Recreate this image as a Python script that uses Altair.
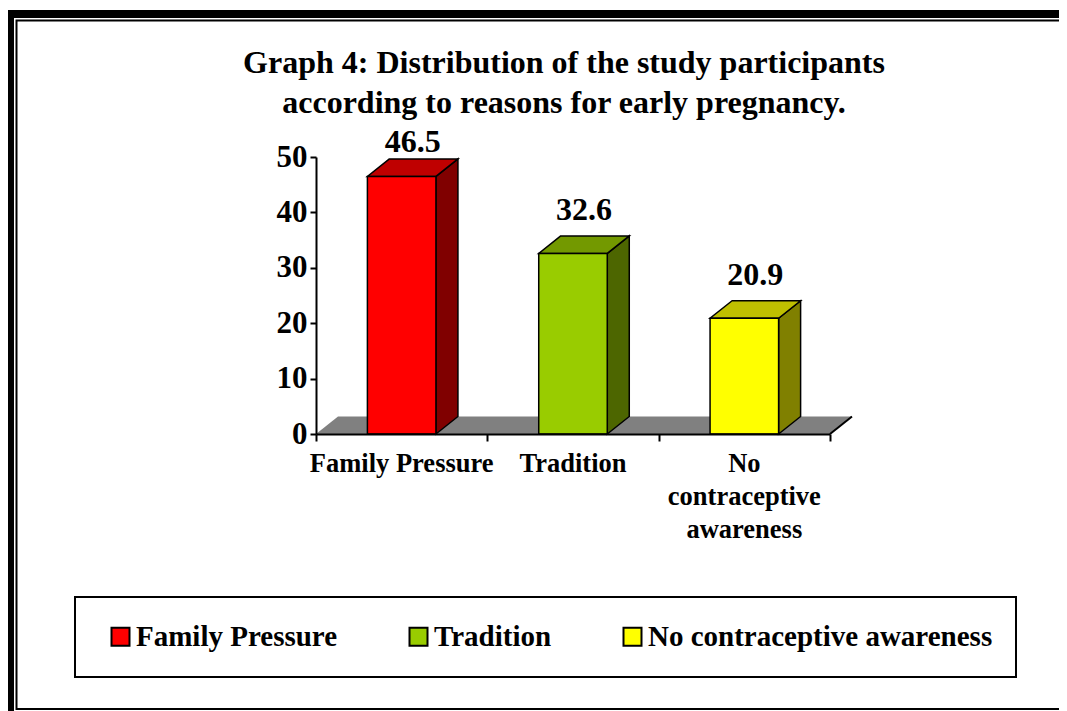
import altair as alt
import pandas as pd

# ---- data ----
categories = ["Family Pressure", "Tradition", "No contraceptive awareness"]
values = [46.5, 32.6, 20.9]
value_labels = ["46.5", "32.6", "20.9"]
axis_labels = ["Family Pressure", "Tradition", "No\ncontraceptive\nawareness"]
front_colors = ["#FF0000", "#99CC00", "#FFFF00"]
top_colors = ["#BF0000", "#739900", "#BFBF00"]
side_colors = ["#800000", "#4D6600", "#808000"]
title_lines = ["Graph 4: Distribution of the study participants",
               "according to reasons for early pregnancy."]
y_ticks = [0, 10, 20, 30, 40, 50]

# ---- layout constants ----
FONT = "Liberation Serif"
PLOT_W, PLOT_H = 514, 277
PAD = {"left": 308, "top": 149, "right": 229, "bottom": 277}
Y_MAX = 50
N = len(categories)
PX_Y = PLOT_H / Y_MAX          # pixels per unit on y
PX_X = PLOT_W / N              # pixels per category
BAR_HALF = 0.2                 # half bar width in category units
DX = 22 / PX_X                 # 3-D depth offset (x units)
DY = 17.5 / PX_Y               # 3-D depth offset (y units)
LABEL_GAP = 33 / PX_Y
LABEL_CAP = 50.9

# ---- derived tables ----
front = pd.DataFrame({
    "cat": categories,
    "l": [i + 0.5 - BAR_HALF for i in range(N)],
    "r": [i + 0.5 + BAR_HALF for i in range(N)],
    "zero": [0] * N,
    "v": values,
})

side_rows, top_rows = [], []
for i, (c, v) in enumerate(zip(categories, values)):
    l, r = i + 0.5 - BAR_HALF, i + 0.5 + BAR_HALF
    side_rows += [dict(cat=c, x=r, y=0, y2=v, col=side_colors[i]),
                  dict(cat=c, x=r + DX, y=DY, y2=v + DY, col=side_colors[i])]
    top_rows += [dict(cat=c, y=v, x=l, x2=r, col=top_colors[i]),
                 dict(cat=c, y=v + DY, x=l + DX, x2=r + DX, col=top_colors[i])]
side = pd.DataFrame(side_rows)
top = pd.DataFrame(top_rows)

floor = pd.DataFrame({"y": [0, DY], "x": [0, DX], "x2": [N, N + DX]})
edge = pd.DataFrame({"x": [N], "y": [0], "x2": [N + DX], "y2": [DY]})

vlab = pd.DataFrame({
    "x": [i + 0.5 + DX / 2 for i in range(N)],
    "y": [min(v + LABEL_GAP, LABEL_CAP) for v in values],
    "t": value_labels,
})
clab = pd.DataFrame({"x": [i + 0.5 for i in range(N)], "t": axis_labels})
one = pd.DataFrame({"a": [0]})

xscale = alt.Scale(domain=[0, N], nice=False, zero=False)
yscale = alt.Scale(domain=[0, Y_MAX], nice=False)

# ---- layers ----
floor_layer = alt.Chart(floor).mark_area(orient="horizontal", color="#808080").encode(
    y=alt.Y("y:Q", scale=yscale, title=None,
            axis=alt.Axis(values=y_ticks, grid=False, domainColor="black", domainWidth=2,
                          tickColor="black", tickWidth=2, tickSize=6, labelPadding=3,
                          labelFont=FONT, labelFontSize=31, labelFontWeight="bold",
                          labelColor="black", zindex=1, title=None)),
    x=alt.X("x:Q", scale=xscale, stack=None, title=None,
            axis=alt.Axis(values=list(range(N + 1)), labels=False, grid=False,
                          domainColor="black", domainWidth=2, tickColor="black",
                          tickWidth=2, tickSize=7, zindex=1, title=None)),
    x2="x2",
)

edge_layer = alt.Chart(edge).mark_rule(color="black", strokeWidth=2).encode(
    x=alt.X("x:Q", title=None), y=alt.Y("y:Q", title=None), x2="x2", y2="y2")

side_layer = alt.Chart(side).mark_area(orient="vertical", stroke="black", strokeWidth=1.5).encode(
    x=alt.X("x:Q", title=None),
    y=alt.Y("y:Q", stack=None, title=None),
    y2="y2",
    fill=alt.Fill("col:N", scale=None),
    detail="cat:N",
)

top_layer = alt.Chart(top).mark_area(orient="horizontal", stroke="black", strokeWidth=1.5).encode(
    y=alt.Y("y:Q", title=None),
    x=alt.X("x:Q", stack=None, title=None),
    x2="x2",
    fill=alt.Fill("col:N", scale=None),
    detail="cat:N",
)

front_layer = alt.Chart(front).mark_rect(stroke="black", strokeWidth=1.5, opacity=1).encode(
    x=alt.X("l:Q", title=None),
    x2="r",
    y=alt.Y("zero:Q", title=None),
    y2="v",
    color=alt.Color("cat:N", sort=categories,
                    scale=alt.Scale(domain=categories, range=front_colors),
                    legend=alt.Legend(title=None, orient="none", legendX=-210, legendY=465,
                                      direction="horizontal", columns=3, columnPadding=66,
                                      symbolType="square", symbolSize=324,
                                      symbolStrokeColor="black", symbolStrokeWidth=2,
                                      symbolOpacity=1, labelOffset=1, labelLimit=0,
                                      labelFont=FONT, labelFontSize=29,
                                      labelFontWeight="bold", labelColor="black")),
)

vlab_layer = alt.Chart(vlab).mark_text(font=FONT, fontSize=32, fontWeight="bold",
                                       color="black", align="center",
                                       baseline="alphabetic").encode(
    x=alt.X("x:Q", title=None), y=alt.Y("y:Q", title=None), text="t:N")

clab_layer = alt.Chart(clab).mark_text(font=FONT, fontSize=26.5, fontWeight="bold",
                                       color="black", align="center", baseline="alphabetic",
                                       lineBreak="\n", lineHeight=33).encode(
    x=alt.X("x:Q", title=None), y=alt.value(PLOT_H + 38), text="t:N")

title_layer = alt.Chart(one).mark_text(font=FONT, fontSize=32, fontWeight="bold",
                                       color="black", align="center", baseline="alphabetic",
                                       lineHeight=40, text=title_lines).encode(
    x=alt.value(248), y=alt.value(-84))

# decorations: page frame and legend box
frame_top = alt.Chart(one).mark_rect(color="black").encode(
    x=alt.value(-308), x2=alt.value(760), y=alt.value(-147), y2=alt.value(-139))
frame_left = alt.Chart(one).mark_rect(color="black").encode(
    x=alt.value(-308), x2=alt.value(-302), y=alt.value(-147), y2=alt.value(560))
frame_inner = alt.Chart(one).mark_rect(fillOpacity=0, stroke="black", strokeWidth=2).encode(
    x=alt.value(-299.5), x2=alt.value(770), y=alt.value(-136.5), y2=alt.value(552))
legend_box = alt.Chart(one).mark_rect(fillOpacity=0, stroke="black", strokeWidth=2).encode(
    x=alt.value(-241), x2=alt.value(700), y=alt.value(440), y2=alt.value(520))

chart = alt.layer(
    floor_layer, edge_layer, side_layer, top_layer, front_layer,
    vlab_layer, clab_layer, title_layer,
    frame_top, frame_left, frame_inner, legend_box,
).properties(
    width=PLOT_W, height=PLOT_H, padding=PAD, autosize="none", background="white",
).configure_view(stroke=None)

chart.save("out.html", embed_options={"renderer": "svg", "actions": False})
